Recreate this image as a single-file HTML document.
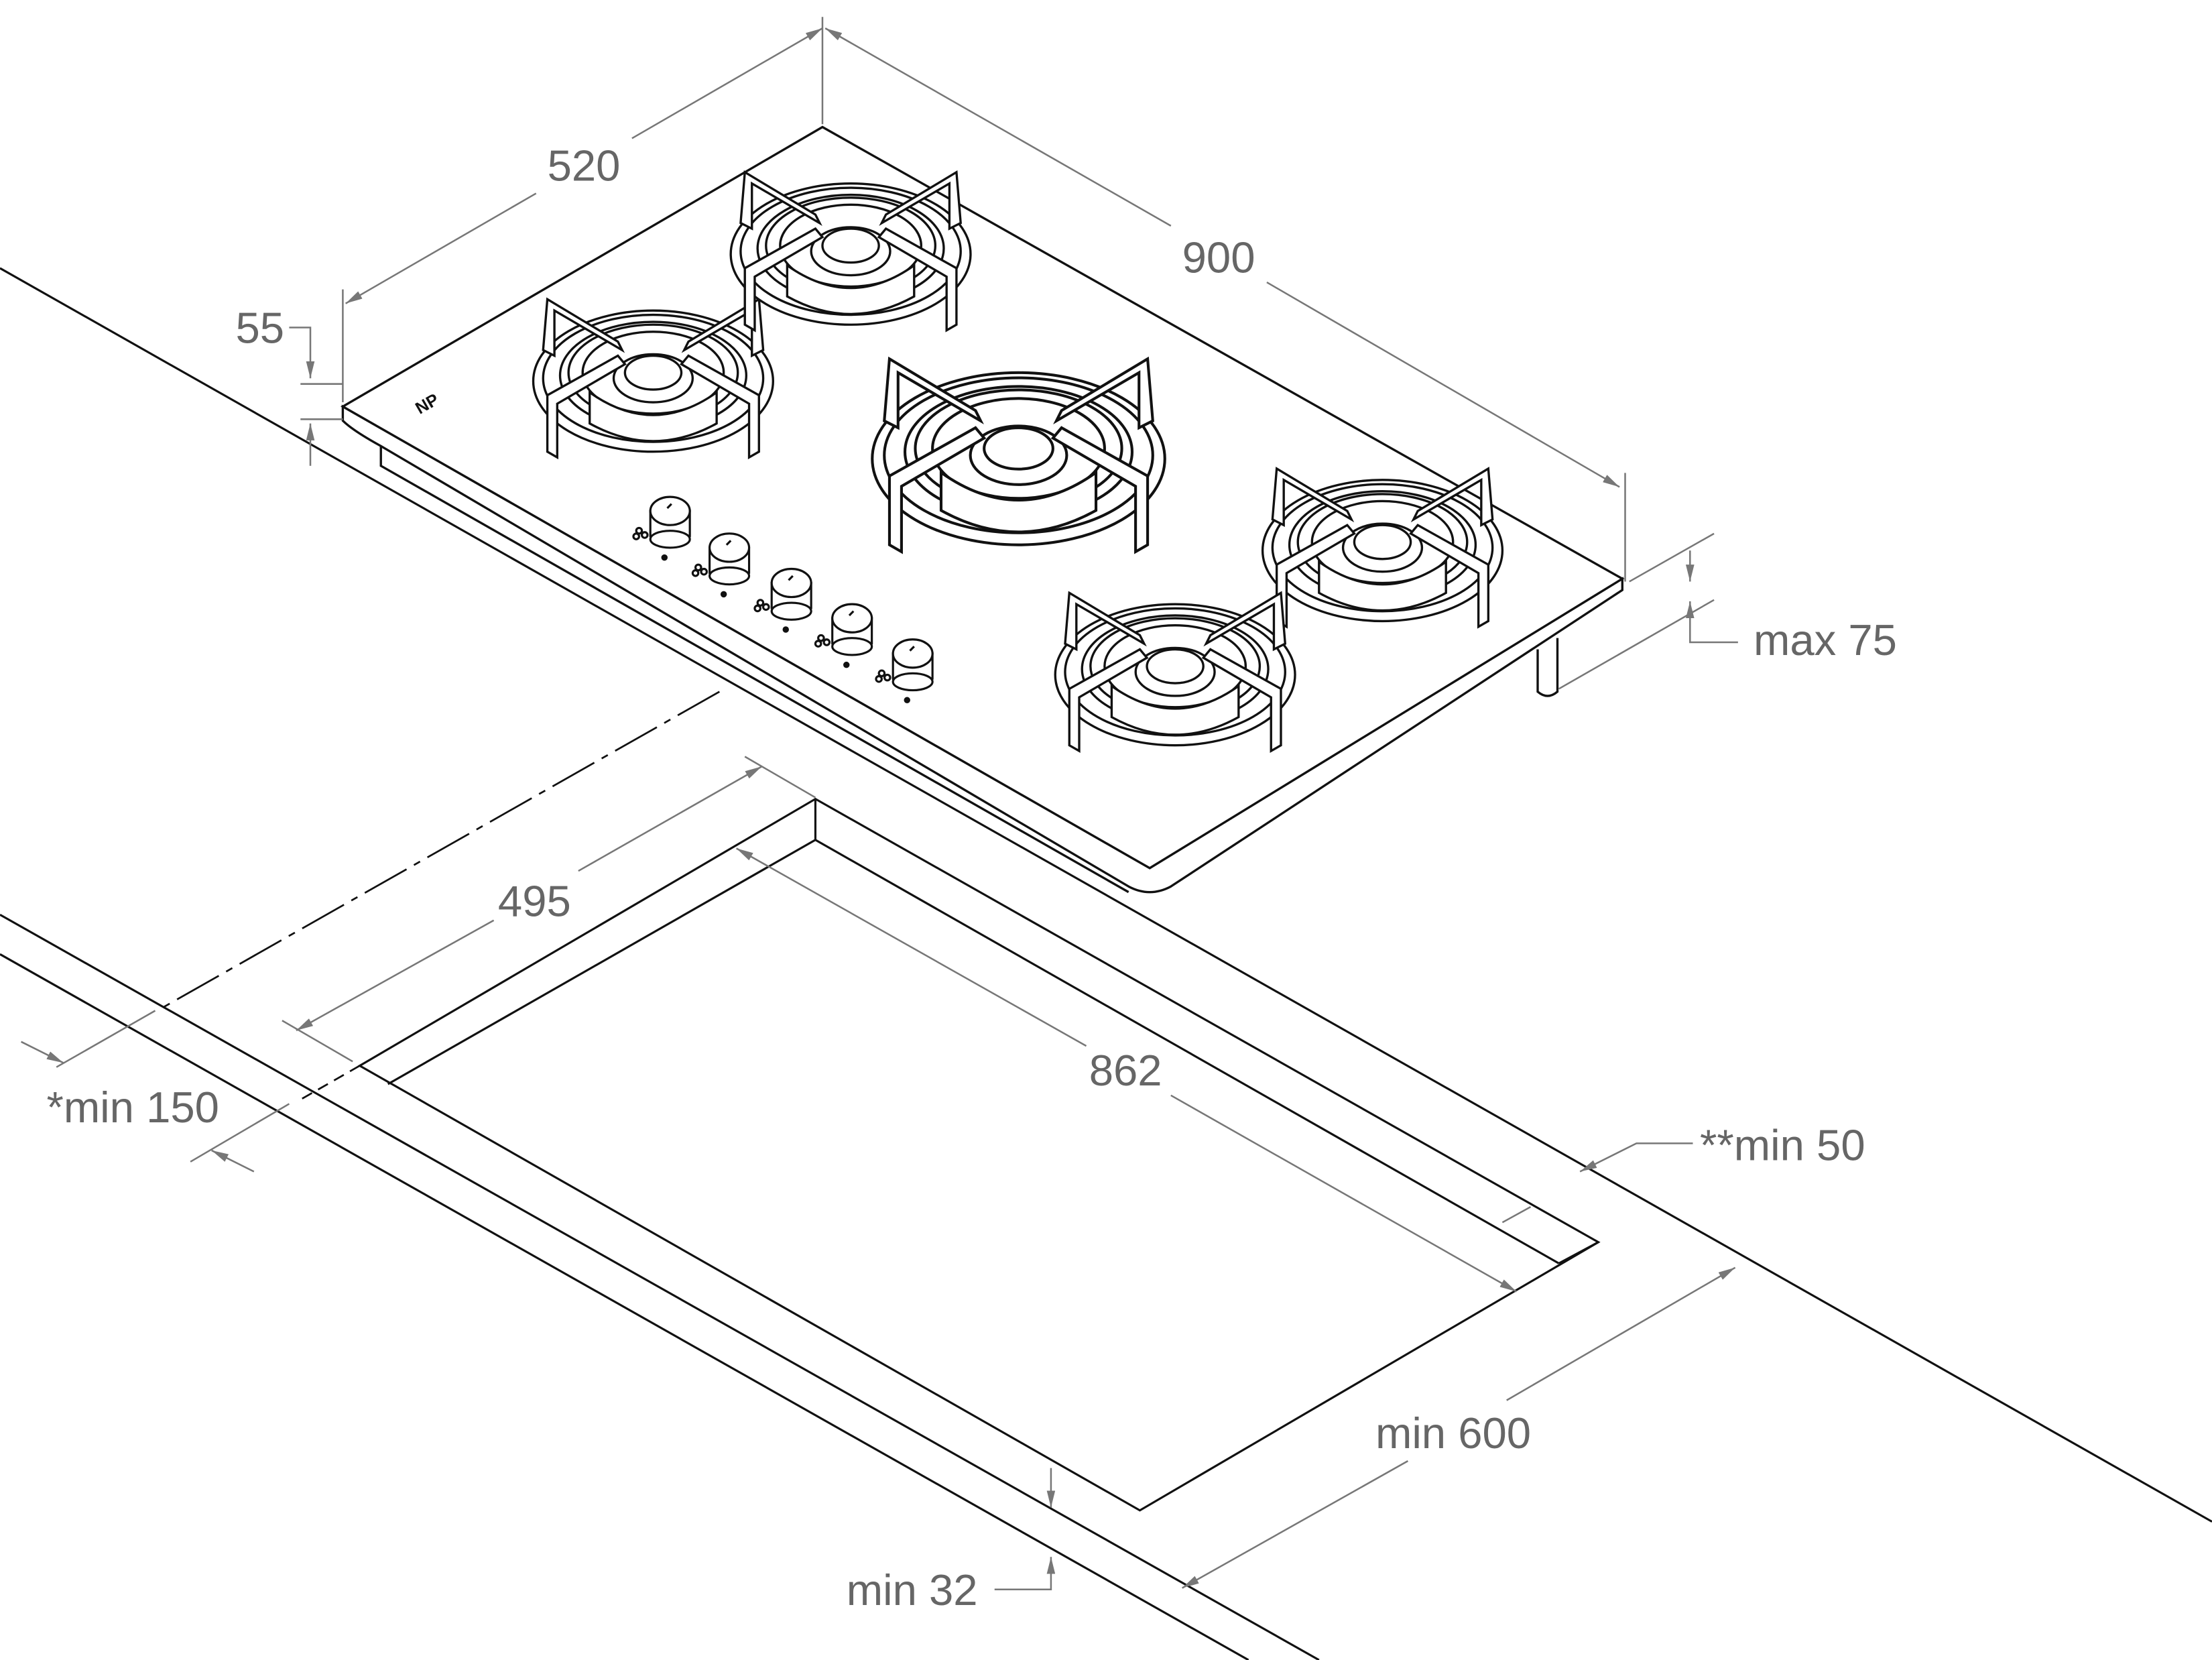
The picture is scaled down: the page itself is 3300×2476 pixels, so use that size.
<!DOCTYPE html>
<html><head><meta charset="utf-8"><style>
html,body{margin:0;padding:0;background:#fff;}
svg{display:block;}
text{font-family:"Liberation Sans",sans-serif;font-size:31px;fill:#666;}
</style></head><body>
<svg width="3300" height="2476" viewBox="0 0 1568 1176" preserveAspectRatio="none" xmlns="http://www.w3.org/2000/svg">
<defs>
<marker id="ar" viewBox="0 0 12 6" refX="12" refY="3" markerWidth="12" markerHeight="6" markerUnits="userSpaceOnUse" orient="auto">
  <path d="M0 0 L12 3 L0 6 Z" fill="#777"/>
</marker>
<g id="burner" fill="#fff" stroke="#111" stroke-width="1.6">
  <ellipse cx="0" cy="0" rx="85" ry="50"/>
  <ellipse cx="0" cy="-2" rx="78" ry="45"/>
  <ellipse cx="0" cy="-4" rx="66" ry="38"/>
  <ellipse cx="0" cy="-6" rx="60" ry="34"/>
  <ellipse cx="0" cy="-6" rx="50" ry="29"/>
  <path d="M-45 8 Q0 40 45 8 L45 30 Q0 55 -45 30 Z"/>
  <ellipse cx="0" cy="-2" rx="28" ry="17"/>
  <ellipse cx="0" cy="-6" rx="20" ry="12"/>
  <path d="M-75 -58 L-25 -28 L-22 -22 L-70 -50 L-70 -18 L-78 -22 Z"/>
  <path d="M75 -58 L25 -28 L22 -22 L70 -50 L70 -18 L78 -22 Z"/>
  <path d="M-75 50 L-75 10 L-25 -18 L-20 -12 L-68 16 L-68 54 Z"/>
  <path d="M75 50 L75 10 L25 -18 L20 -12 L68 16 L68 54 Z"/>
</g>
<g id="knob" fill="#fff" stroke="#111" stroke-width="1.5">
  <path d="M-14 0 L-14 18 Q0 30 14 18 L14 0 Z"/>
  <ellipse cx="0" cy="20" rx="14" ry="6"/>
  <ellipse cx="0" cy="0" rx="14" ry="10"/>
  <line x1="-2" y1="-2" x2="1" y2="-5"/>
  <circle cx="-22" cy="14" r="2" fill="none"/><circle cx="-18" cy="17" r="2" fill="none"/><circle cx="-24" cy="18" r="2" fill="none"/>
  <circle cx="-4" cy="33" r="1.5" fill="#111"/>
</g>
</defs>

<!-- countertop lines -->
<g stroke="#111" stroke-width="1.5" fill="none">
  <line x1="0" y1="190" x2="1568" y2="1078"/>
  <line x1="0" y1="648" x2="935" y2="1176"/>
  <line x1="0" y1="676" x2="885" y2="1176"/>
  <!-- cutout -->
  <path d="M578 566 L255 755 L808 1070 L1133 880 Z" fill="#fff"/>
  <line x1="578" y1="566" x2="578" y2="595"/>
  <line x1="578" y1="595" x2="275" y2="768"/>
  <line x1="578" y1="595" x2="1105" y2="895"/>
  <line x1="1105" y1="895" x2="1133" y2="880"/>
</g>
<line x1="510" y1="490" x2="115" y2="714" stroke="#111" stroke-width="1.3" stroke-dasharray="34,6,5,6"/>
<line x1="255" y1="755" x2="213" y2="779" stroke="#111" stroke-width="1.3" stroke-dasharray="8,5"/>

<!-- hob -->
<g stroke="#111" stroke-width="1.6" fill="#fff">
  <path d="M243 288 L243 298 Q250 305 270 316 L800 628 Q815 636 830 628 L1150 418 L1150 410 L815 615 Z"/>
  <path d="M583 90 L243 288 L815 615 L1150 410 Z"/>
  <path d="M270 316 L270 330 L800 632" fill="none"/>
  <path d="M1090 460 L1090 490 Q1097 496 1104 490 L1104 452" />
</g>
<text x="296" y="292" style="font-size:12px;font-weight:bold;fill:#111" transform="rotate(-30 300 290)">NP</text>
<use href="#burner" transform="translate(463,270)"/>
<use href="#burner" transform="translate(603,180)"/>
<use href="#burner" transform="translate(722,325) scale(1.22)"/>
<use href="#burner" transform="translate(980,390)"/>
<use href="#burner" transform="translate(833,478)"/>
<use href="#knob" transform="translate(475,362)"/>
<use href="#knob" transform="translate(517,388)"/>
<use href="#knob" transform="translate(561,413)"/>
<use href="#knob" transform="translate(604,438)"/>
<use href="#knob" transform="translate(647,463)"/>

<!-- dimensions -->
<g stroke="#777" stroke-width="1.2" fill="none">
  <line x1="243" y1="205" x2="243" y2="285"/>
  <line x1="583" y1="12" x2="583" y2="88"/>
  <line x1="380" y1="137" x2="245" y2="215" marker-end="url(#ar)"/>
  <line x1="448" y1="98" x2="583" y2="20" marker-end="url(#ar)"/>
  <line x1="830" y1="160" x2="585" y2="20" marker-end="url(#ar)"/>
  <line x1="898" y1="200" x2="1148" y2="345" marker-end="url(#ar)"/>
  <line x1="1152" y1="335" x2="1152" y2="412"/>
  <path d="M205 232 L220 232 L220 268" marker-end="url(#ar)"/>
  <line x1="220" y1="330" x2="220" y2="300" marker-end="url(#ar)"/>
  <line x1="213" y1="272" x2="243" y2="272"/>
  <line x1="213" y1="297" x2="243" y2="297"/>
  <line x1="1198" y1="390" x2="1198" y2="412" marker-end="url(#ar)"/>
  <path d="M1232 455 L1198 455 L1198 426" marker-end="url(#ar)"/>
  <line x1="1155" y1="412" x2="1215" y2="378"/>
  <line x1="1105" y1="488" x2="1215" y2="425"/>
  <line x1="410" y1="617" x2="540" y2="543" marker-end="url(#ar)"/>
  <line x1="350" y1="652" x2="210" y2="730" marker-end="url(#ar)"/>
  <line x1="200" y1="723" x2="250" y2="752"/>
  <line x1="528" y1="536" x2="578" y2="565"/>
  <line x1="770" y1="741" x2="522" y2="601" marker-end="url(#ar)"/>
  <line x1="830" y1="776" x2="1075" y2="915" marker-end="url(#ar)"/>
  <line x1="1085" y1="855" x2="1065" y2="866"/>
  <line x1="15" y1="738" x2="45" y2="753" marker-end="url(#ar)"/>
  <line x1="40" y1="756" x2="110" y2="716"/>
  <line x1="180" y1="830" x2="150" y2="815" marker-end="url(#ar)"/>
  <line x1="135" y1="823" x2="205" y2="782"/>
  <path d="M1200 810 L1160 810 L1120 830" marker-end="url(#ar)"/>
  <line x1="998" y1="1035" x2="838" y2="1125" marker-end="url(#ar)"/>
  <line x1="1068" y1="992" x2="1230" y2="898" marker-end="url(#ar)"/>
  <line x1="745" y1="1040" x2="745" y2="1068" marker-end="url(#ar)"/>
  <path d="M705 1126 L745 1126 L745 1103" marker-end="url(#ar)"/>
</g>
<text x="388" y="128">520</text>
<text x="838" y="193">900</text>
<text x="167" y="243">55</text>
<text x="1243" y="464">max 75</text>
<text x="353" y="649">495</text>
<text x="772" y="769">862</text>
<text x="33" y="795">*min 150</text>
<text x="1205" y="822">**min 50</text>
<text x="975" y="1026">min 600</text>
<text x="600" y="1137">min 32</text>
</svg>
</body></html>
